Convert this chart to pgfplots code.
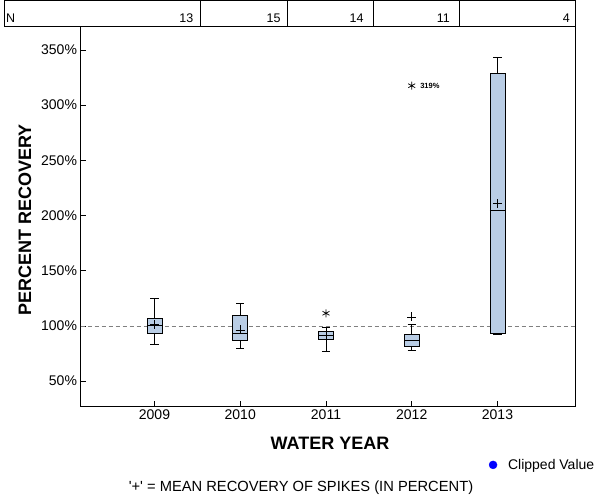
\documentclass[border=0pt]{standalone}
\usepackage{pgfplots}
\pgfplotsset{compat=1.18}
\usepackage{fontspec}
\setmainfont{Liberation Sans}
\definecolor{boxfill}{RGB}{185,205,229}
\definecolor{refgray}{RGB}{128,128,128}
% #1 position, #2 lower whisker, #3 Q1, #4 median, #5 Q3, #6 upper whisker
\newcommand\boxat[6]{%
  \addplot[black, line width=0.8pt, forget plot] coordinates {(#1,#2) (#1,#3)};
  \addplot[black, line width=0.8pt, forget plot] coordinates {(#1,#5) (#1,#6)};
  \addplot[black, line width=0.8pt, forget plot] coordinates {(#1-0.0475,#2) (#1+0.0475,#2)};
  \addplot[black, line width=0.8pt, forget plot] coordinates {(#1-0.0475,#6) (#1+0.0475,#6)};
  \addplot[draw=black, fill=boxfill, line width=0.8pt, forget plot]
    coordinates {(#1-0.0875,#3) (#1+0.0875,#3) (#1+0.0875,#5) (#1-0.0875,#5)} -- cycle;
  \addplot[black, line width=0.8pt, forget plot] coordinates {(#1-0.0875,#4) (#1+0.0875,#4)};
}
\begin{document}
\begin{tikzpicture}
\useasboundingbox (0pt,0pt) rectangle (600pt,500pt);
\begin{axis}[
  at={(80.5pt,94pt)}, anchor=south west,
  scale only axis, width=495pt, height=380pt,
  xmin=-0.863, xmax=4.91, ymin=27.5, ymax=371.7,
  xtick={0,1,2,3,4},
  xticklabels={2009,2010,2011,2012,2013},
  ytick={50,100,150,200,250,300,350},
  yticklabels={50\%,100\%,150\%,200\%,250\%,300\%,350\%},
  xtick pos=lower, ytick pos=left,
  tick align=inside, major tick length=5pt,
  tick style={black, line width=0.8pt},
  axis line style={line width=0.9pt},
  ticklabel style={font=\fontsize{14}{16}\selectfont},
  /pgf/number format/assume math mode=true,
  clip=false,
  legend style={draw=none, fill=none, at={(0.825,-0.155)}, anchor=west,
    font=\fontsize{14}{16}\selectfont, inner sep=0pt},
  legend cell align=left,
]
\addplot[refgray, dash pattern=on 4pt off 3pt, line width=0.7pt, forget plot]
  coordinates {(-0.863,100) (4.91,100)};

\boxat{0}{83.4}{93.3}{100.9}{107.0}{125.2}
\boxat{1}{79.7}{87.0}{93.6}{109.7}{120.6}
\boxat{2}{77.0}{87.9}{91.2}{95.2}{98.8}
\boxat{3}{77.9}{81.5}{87.0}{92.4}{101.5}
\boxat{4}{92.6}{93.3}{204.3}{328.8}{343.4}

\addplot[only marks, mark=+, mark size=4.5pt, black, line width=0.7pt, forget plot]
  coordinates {(0,101.5) (1,96.4) (2,91.5) (3,108.2) (4,210.9)};
\addplot[only marks, mark=asterisk, mark size=4pt, black, line width=0.7pt, forget plot]
  coordinates {(2,111.5) (3,317.6)};
\node[anchor=west, font=\fontsize{7.5}{8}\selectfont\bfseries, xshift=5pt] at (axis cs:3,317.6) {319\%};

\addlegendimage{only marks, mark=*, mark size=4pt, blue}
\addlegendentry{\hspace{9pt}Clipped Value}
\end{axis}

% N table
\draw[line width=0.9pt] (4pt,499.5pt) rectangle (575.5pt,474pt);
\foreach \xx in {200.5,287,373,459.5} {\draw[line width=0.9pt] (\xx pt,474pt) -- (\xx pt,499.5pt);}
\begin{scope}[every node/.style={font=\fontsize{12.5}{14}\selectfont, inner sep=0pt}]
\node[anchor=base west] at (6pt,477.7pt) {N};
\node[anchor=base east] at (193.5pt,477.7pt) {13};
\node[anchor=base east] at (280.8pt,477.7pt) {15};
\node[anchor=base east] at (363.8pt,477.7pt) {14};
\node[anchor=base east] at (450pt,477.7pt) {11};
\node[anchor=base east] at (570pt,477.7pt) {4};
\end{scope}

\node[font=\fontsize{18}{20}\selectfont\bfseries] at (330pt,57pt) {WATER YEAR};
\node[rotate=90, font=\fontsize{18}{20}\selectfont\bfseries] at (25pt,280pt) {PERCENT RECOVERY};
\node[font=\fontsize{14.7}{16}\selectfont] at (301pt,12pt) {\textquotesingle+\textquotesingle\ = MEAN RECOVERY OF SPIKES (IN PERCENT)};
\end{tikzpicture}
\end{document}
